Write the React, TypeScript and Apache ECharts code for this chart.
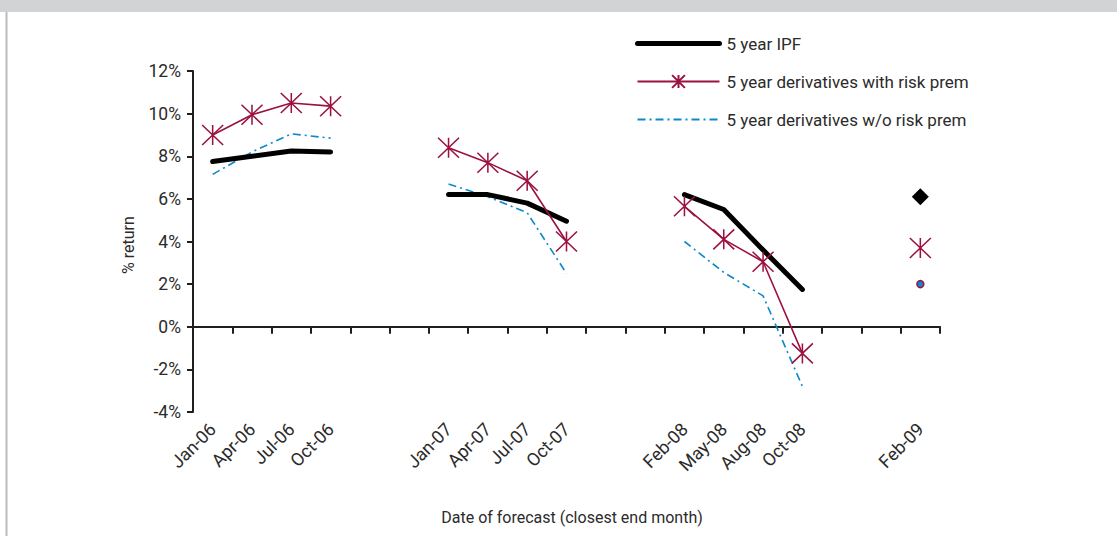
import React, { useEffect, useRef } from "react";
import * as echarts from "echarts";

const categories = [
  "Jan-06", "Apr-06", "Jul-06", "Oct-06", " ", "  ",
  "Jan-07", "Apr-07", "Jul-07", "Oct-07", "   ", "    ",
  "Feb-08", "May-08", "Aug-08", "Oct-08", "     ", "      ",
  "Feb-09",
];

const ipf: (number | null)[] = [7.75, 8.0, 8.25, 8.2, null, null, 6.2, 6.2, 5.8, 4.95, null, null, 6.2, 5.5, 3.6, 1.75, null, null, 6.1];
const withPrem: (number | null)[] = [9.0, 9.95, 10.5, 10.35, null, null, 8.4, 7.7, 6.85, 4.0, null, null, 5.65, 4.1, 3.05, -1.25, null, null, 3.7];
const withoutPrem: (number | null)[] = [7.15, 8.2, 9.05, 8.85, null, null, 6.7, 6.1, 5.35, 2.5, null, null, 4.0, 2.55, 1.45, -2.8, null, null, 2.0];

const seriesNames = [
  "5 year IPF",
  "5 year derivatives with risk prem",
  "5 year derivatives w/o risk prem",
];

const yMin = -4;
const yMax = 12;
const yStep = 2;

const RED = "#9b1242";
const BLUE = "#0d89c9";
const FONT = "Roboto, 'Open Sans', sans-serif";
const TXT = "#2b2b2b";

const STAR = "path://M0,0 L20,20 M20,0 L0,20 M10,0 L10,20";

export default function App() {
  const ref = useRef<HTMLDivElement>(null);

  useEffect(() => {
    if (!ref.current) return;
    const chart = echarts.init(ref.current, undefined, { renderer: "svg" });
    const lastIdx = categories.length - 1;

    const ipfData = ipf.map((v, i) =>
      i === lastIdx ? { value: v, symbol: "diamond", symbolSize: 17, itemStyle: { color: "#000" } } : v
    );
    const woData = withoutPrem.map((v, i) =>
      i === lastIdx
        ? { value: v, symbol: "circle", symbolSize: 7, itemStyle: { color: BLUE, borderColor: RED, borderWidth: 1.5 } }
        : v
    );

    chart.setOption({
      animation: false,
      backgroundColor: "#fff",
      textStyle: { fontFamily: FONT },
      grid: { left: 193, right: 177, top: 71, bottom: 124, containLabel: false },
      legend: {
        orient: "vertical",
        left: 630,
        top: 30,
        itemWidth: 82,
        itemHeight: 16,
        itemGap: 21,
        data: [
          { name: seriesNames[0], itemStyle: { opacity: 0 }, lineStyle: { width: 5, color: "#000", cap: "round" } },
          { name: seriesNames[1] },
          { name: seriesNames[2], itemStyle: { opacity: 0 } },
        ],
        textStyle: { fontFamily: FONT, fontSize: 17, color: TXT, padding: [0, 0, 0, 2] },
      },
      xAxis: [
        {
          type: "category",
          data: categories,
          boundaryGap: true,
          position: "bottom",
          axisLine: { show: true, onZero: true, lineStyle: { color: "#1f1f1f", width: 2 } },
          axisTick: { show: true, interval: 0, length: 7, lineStyle: { color: "#1f1f1f", width: 2 } },
          axisLabel: { show: false },
          splitLine: { show: false },
        },
        {
          type: "category",
          data: categories,
          boundaryGap: true,
          position: "bottom",
          axisLine: { show: false, onZero: false },
          axisTick: { show: false },
          axisLabel: {
            show: true,
            interval: 0,
            rotate: 45,
            margin: 14,
            fontFamily: FONT,
            fontSize: 18,
            color: TXT,
          },
          splitLine: { show: false },
        },
      ],
      yAxis: {
        type: "value",
        min: yMin,
        max: yMax,
        interval: yStep,
        axisLine: { show: true, lineStyle: { color: "#1f1f1f", width: 2 } },
        axisTick: { show: true, length: 6, lineStyle: { color: "#1f1f1f", width: 2 } },
        axisLabel: { formatter: "{value}%", fontFamily: FONT, fontSize: 17.5, color: TXT, margin: 12 },
        splitLine: { show: false },
      },
      series: [
        {
          name: seriesNames[0],
          type: "line",
          xAxisIndex: 0,
          data: ipfData,
          symbol: "none",
          connectNulls: false,
          itemStyle: { color: "#000" },
          lineStyle: { color: "#000", width: 5, cap: "round", join: "round" },
          z: 3,
        },
        {
          name: seriesNames[1],
          type: "line",
          xAxisIndex: 0,
          data: withPrem,
          symbol: STAR,
          symbolSize: [21, 20],
          connectNulls: false,
          itemStyle: { color: RED, borderColor: RED, borderWidth: 1.5 },
          lineStyle: { color: RED, width: 1.6 },
          z: 4,
        },
        {
          name: seriesNames[2],
          type: "line",
          xAxisIndex: 0,
          data: woData,
          symbol: "none",
          connectNulls: false,
          itemStyle: { color: BLUE },
          lineStyle: { color: BLUE, width: 1.6, type: [8, 4, 2, 4] },
          z: 2,
        },
      ],
      graphic: [
        { type: "rect", shape: { x: 0, y: 0, width: 1117, height: 12 }, style: { fill: "#d1d3d4" }, silent: true },
        { type: "line", shape: { x1: 6.5, y1: 12, x2: 6.5, y2: 536 }, style: { stroke: "#bcbcbc", lineWidth: 2 }, silent: true },
        {
          type: "text",
          x: 572,
          y: 517,
          style: {
            text: "Date of forecast (closest end month)",
            fontFamily: FONT,
            fontSize: 16,
            fill: TXT,
            align: "center",
            verticalAlign: "middle",
          },
        },
        {
          type: "text",
          x: 128,
          y: 245,
          rotation: Math.PI / 2,
          style: {
            text: "% return",
            fontFamily: FONT,
            fontSize: 16,
            fill: TXT,
            align: "center",
            verticalAlign: "middle",
          },
        },
      ],
    });

    return () => chart.dispose();
  }, []);

  return (
    <div
      ref={ref}
      style={{ position: "fixed", left: 0, top: 0, width: 1117, height: 536 }}
    />
  );
}
